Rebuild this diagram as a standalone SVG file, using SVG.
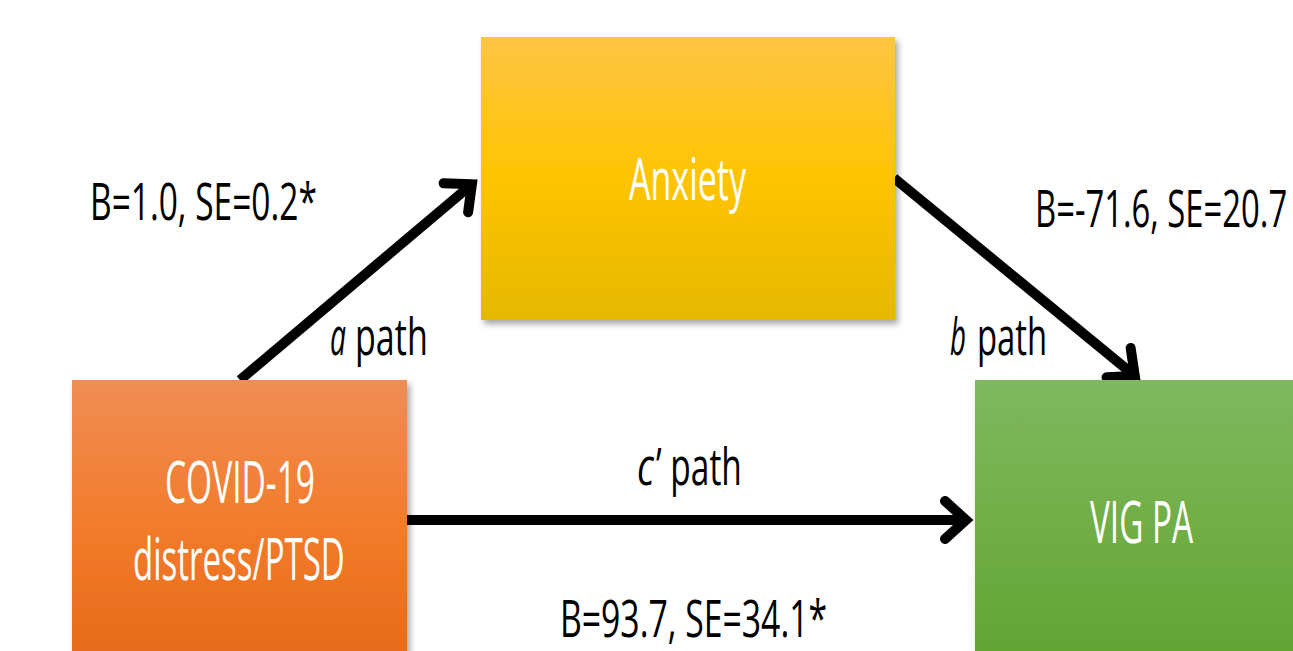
<svg xmlns="http://www.w3.org/2000/svg" width="1293" height="651" viewBox="0 0 1293 651">
<style>
.lbl{font-family:"Open Sans","Liberation Sans",sans-serif;font-size:52px;fill:#000}
.it{font-style:italic}
.nt{font-family:"Open Sans","Liberation Sans",sans-serif;font-size:58px;fill:#fff}
.conn{stroke:#000;stroke-width:10;fill:none}
</style>
<defs>
<linearGradient id="gY" x1="0" y1="0" x2="0" y2="1">
<stop offset="0" stop-color="#FEC545"/><stop offset="0.5" stop-color="#FFC400"/><stop offset="1" stop-color="#E5B800"/>
</linearGradient>
<linearGradient id="gO" x1="0" y1="0" x2="0" y2="1">
<stop offset="0" stop-color="#F08D55"/><stop offset="0.5" stop-color="#F27B2A"/><stop offset="1" stop-color="#E46816"/>
</linearGradient>
<linearGradient id="gG" x1="0" y1="0" x2="0" y2="1">
<stop offset="0" stop-color="#80B860"/><stop offset="0.5" stop-color="#70AE45"/><stop offset="1" stop-color="#60A232"/>
</linearGradient>
<filter id="sh" x="-10%" y="-10%" width="125%" height="125%">
<feDropShadow dx="3" dy="4" stdDeviation="3" flood-color="#000" flood-opacity="0.35"/>
</filter>
<marker id="ah" markerUnits="userSpaceOnUse" viewBox="-40 -35 60 70" refX="0" refY="0" markerWidth="60" markerHeight="70" orient="auto">
<path d="M-21,-19 L0,0 L-21,19" fill="none" stroke="#000" stroke-width="10" stroke-linejoin="miter" stroke-linecap="round"/>
</marker>
</defs>
<rect width="1293" height="651" fill="#fff"/>
<g id="connectors">
<line class="conn" x1="240" y1="380" x2="471.9" y2="184.2" marker-end="url(#ah)"/>
<line class="conn" x1="894" y1="178" x2="1134.8" y2="375.9" marker-end="url(#ah)"/>
<line class="conn" x1="407" y1="520" x2="966" y2="520" marker-end="url(#ah)"/>
</g>
<g id="anxiety">
<rect x="481" y="37" width="414" height="283" fill="url(#gY)" filter="url(#sh)"/>
<text class="nt" transform="translate(629 200) scale(0.6 1)" textLength="195" lengthAdjust="spacingAndGlyphs">Anxiety</text>
</g>
<g id="covid">
<rect x="72" y="380" width="335" height="300" fill="url(#gO)" filter="url(#sh)"/>
<text class="nt" transform="translate(165 503) scale(0.6 1)" textLength="250" lengthAdjust="spacingAndGlyphs">COVID-19</text>
<text class="nt" transform="translate(133 580) scale(0.6 1)" textLength="353" lengthAdjust="spacingAndGlyphs">distress/PTSD</text>
</g>
<g id="vigpa">
<rect x="975" y="380" width="340" height="300" fill="url(#gG)" filter="url(#sh)"/>
<text class="nt" transform="translate(1090 543) scale(0.6 1)" textLength="172" lengthAdjust="spacingAndGlyphs">VIG PA</text>
</g>
<g id="labels">
<text class="lbl" transform="translate(90 220) scale(0.65 1)" textLength="349" lengthAdjust="spacingAndGlyphs">B=1.0, SE=0.2*</text>
<text class="lbl it" transform="translate(330 355) scale(0.65 1)" textLength="24.6" lengthAdjust="spacingAndGlyphs">a</text>
<text class="lbl" transform="translate(355 355) scale(0.65 1)" textLength="112" lengthAdjust="spacingAndGlyphs">path</text>
<text class="lbl" transform="translate(1035 227) scale(0.65 1)" textLength="388" lengthAdjust="spacingAndGlyphs">B=-71.6, SE=20.7</text>
<text class="lbl it" transform="translate(950 355) scale(0.65 1)" textLength="24.6" lengthAdjust="spacingAndGlyphs">b</text>
<text class="lbl" transform="translate(977 355) scale(0.65 1)" textLength="108" lengthAdjust="spacingAndGlyphs">path</text>
<text class="lbl it" transform="translate(637 485) scale(0.65 1)" textLength="26" lengthAdjust="spacingAndGlyphs">c</text>
<text class="lbl" transform="translate(656 485) scale(0.65 1)" textLength="132" lengthAdjust="spacingAndGlyphs">’ path</text>
<text class="lbl" transform="translate(560 637) scale(0.65 1)" textLength="411" lengthAdjust="spacingAndGlyphs">B=93.7, SE=34.1*</text>
</g>
</svg>
